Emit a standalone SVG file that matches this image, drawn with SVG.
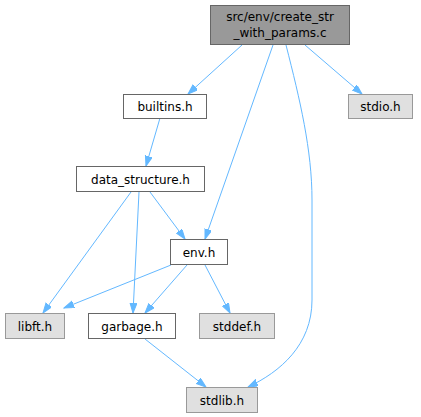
<svg xmlns="http://www.w3.org/2000/svg" width="421" height="417" viewBox="0 0 421 417">
<style>
.n rect{stroke-width:1}
.w rect{fill:#ffffff;stroke:#666666}
.g rect{fill:#e0e0e0;stroke:#999999}
.r rect{fill:#999999;stroke:#666666}
text{font-family:"DejaVu Sans","Liberation Sans",sans-serif;font-size:12px;fill:#000000;text-anchor:middle}
.e path{fill:none;stroke:#63b8ff;stroke-width:1}
</style>
<defs>
<marker id="a" markerUnits="userSpaceOnUse" markerWidth="11" markerHeight="8" refX="10" refY="3.5" orient="auto">
<path d="M0,0 L10,3.5 L0,7 z" fill="#63b8ff" stroke="#63b8ff" stroke-width="1"/>
</marker>
</defs>
<g class="e" id="edges">
<path d="M242,45 L188,94" marker-end="url(#a)"/>
<path d="M273,45 L205,239" marker-end="url(#a)"/>
<path d="M286,45 C300,100 312,150 312,200 L312,300 C312,345 280,372 248,387" marker-end="url(#a)"/>
<path d="M305,45 L362,94" marker-end="url(#a)"/>
<path d="M160,118 L146,166" marker-end="url(#a)"/>
<path d="M150,192 L185,239" marker-end="url(#a)"/>
<path d="M131,192 L43,313" marker-end="url(#a)"/>
<path d="M139,192 L133,313" marker-end="url(#a)"/>
<path d="M171,265 L64,308" marker-end="url(#a)"/>
<path d="M187,265 L145,313" marker-end="url(#a)"/>
<path d="M205,265 L230,313" marker-end="url(#a)"/>
<path d="M145,339 L206,387" marker-end="url(#a)"/>
</g>
<g class="n r" id="root"><rect x="210.5" y="5.5" width="139" height="39"/><text x="280" y="21">src/env/create_str</text><text x="280" y="37">_with_params.c</text></g>
<g class="n w" id="builtins"><rect x="123.5" y="94.5" width="83" height="24"/><text x="165" y="111">builtins.h</text></g>
<g class="n g" id="stdio"><rect x="348.5" y="94.5" width="64" height="24"/><text x="380.5" y="111">stdio.h</text></g>
<g class="n w" id="data_structure"><rect x="76.5" y="166.5" width="128" height="25"/><text x="140.5" y="183.5">data_structure.h</text></g>
<g class="n w" id="env"><rect x="170.5" y="239.5" width="57" height="25"/><text x="199" y="256.5">env.h</text></g>
<g class="n g" id="libft"><rect x="5.5" y="313.5" width="59" height="25"/><text x="35" y="330.5">libft.h</text></g>
<g class="n w" id="garbage"><rect x="88.5" y="313.5" width="87" height="25"/><text x="132" y="330.5">garbage.h</text></g>
<g class="n g" id="stddef"><rect x="199.5" y="313.5" width="75" height="25"/><text x="237" y="330.5">stddef.h</text></g>
<g class="n g" id="stdlib"><rect x="186.5" y="387.5" width="71" height="25"/><text x="222" y="404.5">stdlib.h</text></g>
</svg>
